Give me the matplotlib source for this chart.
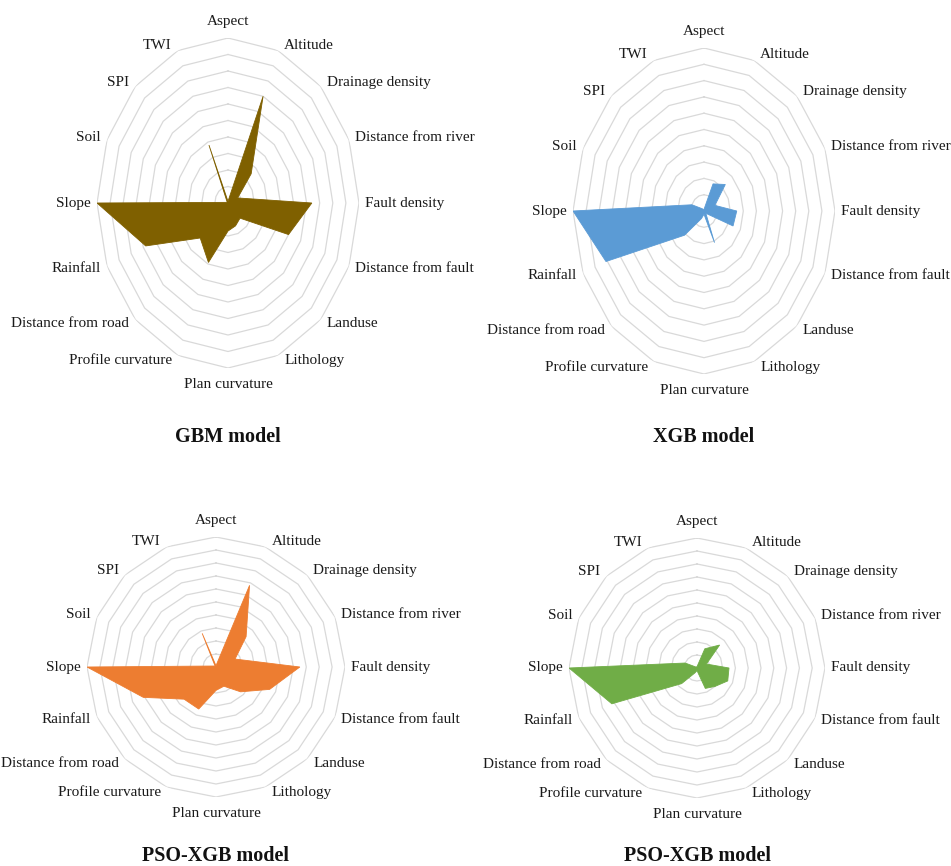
import numpy as np
import matplotlib
matplotlib.use("Agg")
import matplotlib.pyplot as plt

# Conditioning factors, clockwise from the top
factors = ["Aspect", "Altitude", "Drainage density", "Distance from river",
           "Fault density", "Distance from fault", "Landuse", "Lithology",
           "Plan curvature", "Profile curvature", "Distance from road",
           "Rainfall", "Slope", "Soil", "SPI", "TWI"]

# Relative importance of each factor (%)
gbm_importance = [1, 70, 25, 8, 64, 50, 13, 15, 17, 39, 30, 68, 100, 1, 1, 38]
xgb_importance = [1, 18, 23, 9, 25, 24, 2, 21, 2, 5, 21, 81, 100, 10, 2, 1]
pso_xgb_importance_a = [1, 68, 33, 16, 65, 45, 27, 16, 18, 35, 35, 61, 100, 2, 1, 28]
pso_xgb_importance_b = [1, 16, 25, 8, 25, 26, 20, 17, 2, 4, 17, 72, 100, 10, 1, 1]

panel_titles = ["GBM model", "XGB model", "PSO-XGB model", "PSO-XGB model"]
ring_levels = [10, 20, 30, 40, 50, 60, 70, 80, 90, 100]

W, H = 951, 866
DPI = 100
fig = plt.figure(figsize=(W / DPI, H / DPI), dpi=DPI)
fig.patch.set_facecolor("white")

# panel geometry in pixels: centre x, centre y (from top), half width, half height
panels = [
    (228, 203, 131, 165, gbm_importance, "#7F6000", 437),
    (704, 211, 131, 163, xgb_importance, "#5B9BD5", 437),
    (216, 667, 129, 130, pso_xgb_importance_a, "#ED7D31", 856),
    (697, 668, 128, 130, pso_xgb_importance_b, "#70AD47", 856),
]

n = len(factors)
theta = np.arange(n) * 2 * np.pi / n
theta_closed = np.append(theta, theta[0])

label_font = dict(family="Liberation Serif", size=11, color="#1a1a1a")

for (cx, cy, rx, ry, values, color, title_y), title in zip(panels, panel_titles):
    rect = [(cx - rx) / W, (H - cy - ry) / H, 2 * rx / W, 2 * ry / H]
    ax = fig.add_axes(rect, projection="polar")
    ax.set_aspect("auto")
    ax.set_theta_offset(np.pi / 2)
    ax.set_theta_direction(-1)
    ax.set_ylim(0, 100)
    ax.grid(False)
    ax.set_xticks([])
    ax.set_yticks([])
    ax.spines["polar"].set_visible(False)
    ax.patch.set_visible(False)

    # polygonal rings
    for lvl in ring_levels:
        ax.plot(theta_closed, [lvl] * (n + 1), color="#D9D9D9", lw=0.9, zorder=1)

    vals = np.append(values, values[0])
    ax.fill(theta_closed, vals, facecolor=color, edgecolor=color, lw=0.6, zorder=2)

    # factor labels
    for t, name in zip(theta, factors):
        s, c = np.sin(t), np.cos(t)
        if abs(s) < 0.1:
            ha = "center"
            va = "bottom" if c > 0 else "top"
            dx, dy = 0, 10 * np.sign(c)
        else:
            ha = "left" if s > 0 else "right"
            va = "center"
            dx, dy = 6 * np.sign(s), 6 * c
        ax.annotate(name, xy=(t, 100), xytext=(dx, dy), textcoords="offset pixels",
                    ha=ha, va=va, annotation_clip=False, **label_font)

    fig.text(cx / W, 1 - title_y / H, title, ha="center", va="center",
             family="Liberation Serif", fontsize=14.5, fontweight="bold", color="#111111")

fig.savefig("out.png", dpi=DPI, facecolor="white")
